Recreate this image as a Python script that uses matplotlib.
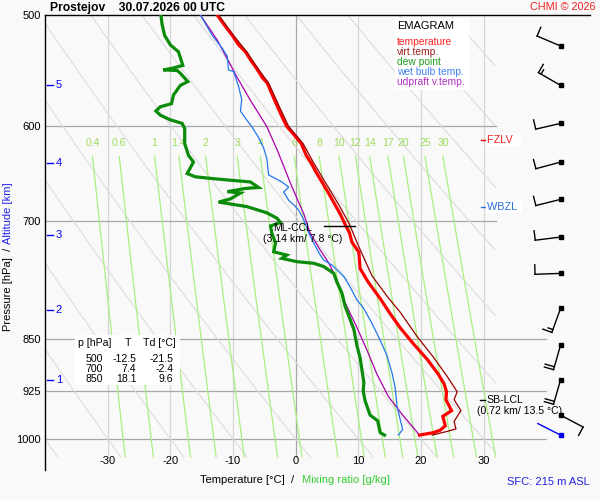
import numpy as np
import matplotlib
matplotlib.use('Agg')
import matplotlib.pyplot as plt
from matplotlib.patches import Rectangle
from matplotlib.ticker import NullLocator

plt.rcParams['font.family'] = ['Liberation Sans', 'DejaVu Sans']

# --- sounding profiles (p in hPa, T in degC) ---
t_p = [500, 508, 517, 525, 531, 538, 545, 554, 559, 570, 582, 594, 600, 610, 617,
       629, 637, 647, 658, 672, 682, 692, 704, 714, 725, 737, 757, 774, 795, 815,
       834, 856, 878, 900, 914, 926, 938, 955, 964, 979, 986, 990, 994]
t_t = [-12.5, -11.4, -10.1, -9.1, -8.0, -7.2, -6.3, -5.3, -4.5, -3.7, -2.8, -1.9, -1.4, 0.0, 0.9,
       1.7, 2.5, 3.3, 4.3, 5.5, 6.3, 7.1, 7.9, 8.6, 9.0, 10.1, 10.3, 11.6, 13.5, 15.1,
       16.7, 18.8, 21.0, 22.8, 23.7, 24.1, 24.0, 24.9, 23.5, 23.9, 23.1, 22.0, 19.8]

tv_p = [500, 517, 531, 545, 559, 582, 600, 617, 637, 658, 682, 704, 727, 749,
        766, 792, 813, 846, 875, 903, 926, 938, 955, 972, 984, 988, 994]
tv_t = [-12.3, -9.9, -7.8, -6.1, -4.3, -2.5, -1.1, 1.2, 2.9, 4.8, 6.9, 8.6, 9.9, 11.2,
        12.2, 14.6, 16.7, 19.4, 22.0, 24.2, 25.8, 25.3, 26.4, 25.3, 25.6, 24.2, 21.8]

td_p = [500, 508, 517, 525, 531, 543, 545.5, 547, 547.5, 550, 557.5, 561, 570, 578, 581,
        585, 589, 593.5, 597, 602, 617, 629, 636, 648, 651.5, 654, 657, 663, 664, 667.5,
        669, 675.5, 679, 684, 691, 697, 702, 706, 714, 726, 736.5, 740.5, 744.5, 748.5, 750.5,
        754.5, 763, 774, 788, 805, 818, 836, 859, 876, 894, 912, 925, 940, 962, 971,
        990, 994]
td_t = [-21.5, -21.3, -20.9, -20.0, -18.7, -18.0, -19.7, -21.1, -18.9, -18.4, -17.2, -18.4, -19.5, -19.8, -21.6,
        -22.3, -21.6, -20.0, -18.1, -17.7, -17.7, -17.1, -16.3, -17.3, -16.0, -12.3, -7.2, -5.9, -8.0, -10.9,
        -8.8, -10.4, -12.3, -7.8, -4.6, -3.0, -2.4, -4.0, -3.8, -3.2, -3.5, -1.4, -2.2, 0.2, 2.9,
        4.5, 6.1, 6.6, 7.4, 7.9, 8.5, 9.3, 9.8, 10.3, 10.6, 10.9, 10.8, 11.1, 11.9, 13.1,
        13.5, 14.2]

tw_p = [500, 517, 528, 535, 547, 548.5, 562, 574, 585, 592, 600, 611, 621.5, 632, 649.5,
        657, 662.5, 668, 677, 682, 688, 699, 714, 726, 740, 746.5, 752.5, 767, 780, 797,
        807, 828, 851, 873, 898, 920, 948, 969, 985, 994]
tw_t = [-15.2, -13.3, -11.7, -10.9, -10.7, -9.9, -9.1, -8.6, -8.8, -8.0, -7.0, -5.9, -5.1, -4.6, -4.3,
        -2.2, -1.1, -1.9, -1.1, -0.3, 0.5, 1.3, 2.1, 2.9, 3.9, 4.5, 5.8, 7.7, 8.7, 9.8,
        10.8, 12.2, 13.5, 14.6, 15.4, 15.9, 16.2, 16.7, 17.1, 16.4]

up_p = [500, 521, 553, 575, 600, 624, 662, 692, 714, 734, 750, 771, 797, 830, 865,
        900, 933, 962, 994]
up_t = [-15.2, -12.5, -9.4, -7.2, -4.6, -2.9, -0.6, 1.3, 2.3, 3.9, 5.3, 6.6, 7.7, 9.6, 11.4,
        13.0, 14.8, 17.1, 19.8]

# winds (direction from, knots)
wind_p = [526, 561, 597, 636, 676, 719, 763, 808, 858, 908, 962]
wind_dir = [293, 300, 257, 255, 256, 263, 268, 200, 196, 196, 118]
wind_kt = [10, 15, 10, 10, 10, 10, 10, 15, 20, 20, 10]
sfc_p, sfc_dir, sfc_kt = 994, 297, 3

# height marks
alt_km = [1, 2, 3, 4, 5]
alt_p = [909, 810, 717, 637, 561]

# table
tab_p = [500, 700, 850]
tab_t = [-12.5, 7.4, 18.1]
tab_td = [-21.5, -2.4, 9.6]

# derived levels
fzlv_p, wbzl_p = 613, 684
ccl_p, ccl_km, ccl_t = 706, 3.14, 7.8
lcl_p, lcl_km, lcl_t = 938, 0.72, 13.5

# diagram grid
iso_t = [-30, -20, -10, 0, 10, 20, 30]
p_ticks = [500, 600, 700, 850, 925, 1000]
mix_w = [0.4, 0.6, 1, 1.4, 2, 3, 4, 6, 8, 10, 12, 14, 17, 20, 25, 30]
theta_c = list(range(-40, 101, 10))

W, H = 600, 500
bg = '#f9f9f9'


def fx(x):
    return x / W


def fy(y):
    return 1 - y / H


fig = plt.figure(figsize=(6, 5), dpi=100, facecolor=bg)
ax = fig.add_axes([fx(45), fy(470), 545 / W, 455 / H])
ax.set_facecolor(bg)
ax.set_yscale('log')
ax.set_xlim(-40, 47.0)
ax.set_ylim(1052.4, 500)

for s in ['bottom', 'right']:
    ax.spines[s].set_visible(False)
for s in ['left', 'top']:
    ax.spines[s].set_color('black')
    ax.spines[s].set_linewidth(1.0)

ax.set_yticks(p_ticks)
ax.set_yticklabels([str(p) for p in p_ticks])
ax.yaxis.set_minor_locator(NullLocator())
ax.tick_params(axis='y', length=0, pad=3, labelsize=8)
ax.set_xticks(iso_t)
ax.set_xticklabels([str(t) for t in iso_t])
ax.tick_params(axis='x', length=0, pad=-9.8, labelsize=8)

p_bot = 1030
t_max = 32.0

# isotherms
for t in iso_t:
    ax.plot([t, t], [500, p_bot], color='#a8a8a8' if t == 0 else '#d6d6d6', lw=0.9, zorder=1)
# isobars
for p in p_ticks[1:]:
    tr = t_max if p < 800 else 40.0
    ax.plot([-40, tr], [p, p], color='#a8a8a8', lw=0.9, zorder=1, clip_on=False)

# dry adiabats
pp = np.linspace(500, p_bot, 300)
for th in theta_c:
    tt = (th + 273.15) * (pp / 1000.0) ** 0.286 - 273.15
    tt = np.where(tt > t_max, np.nan, tt)
    ax.plot(tt, pp, color='#dcdcdc', lw=0.8, zorder=1)

# mixing ratio lines
def dewpoint(w, p):
    e = w * p / (622.0 + w)
    a = np.log(e / 6.112)
    return 243.5 * a / (17.67 - a)


pm = np.linspace(630, p_bot, 100)
for w in mix_w:
    ax.plot(dewpoint(w, pm), pm, color='#a8f080', lw=0.9, zorder=1)
    ax.text(dewpoint(w, 630), 616.4, '%g' % w, color='#9ddc5c', fontsize=7.6,
            ha='center', va='center', zorder=2)

# profiles
ax.plot(up_t, up_p, color='#aa00aa', lw=0.9, zorder=4)
ax.plot(tw_t, tw_p, color='#2277ee', lw=0.9, zorder=4)
ax.plot(td_t, td_p, color='#0a8c0a', lw=2.3, zorder=5, solid_joinstyle='miter')
ax.plot(t_t, t_p, color='#ff0000', lw=2.3, zorder=5, solid_joinstyle='miter')
ax.plot(tv_t, tv_p, color='#990000', lw=0.9, zorder=6)

# height marks on the left
ytr = ax.get_yaxis_transform()
for km, p in zip(alt_km, alt_p):
    ax.plot([0.0037, 0.0147], [p, p], color='#0000ee', lw=1.0, transform=ytr, clip_on=False)
    ax.text(0.020, p, str(km), color='#0000ee', fontsize=8, ha='left', va='center', transform=ytr)

# wind barbs
barb_t = 42.3
inv = ax.transData.inverted()


def draw_barb(p, ddeg, spd, color):
    x0, y0 = ax.transData.transform((barb_t, p))
    d = np.deg2rad(ddeg)
    sx, sy = np.sin(d), np.cos(d)
    xe, ye = x0 + 25.5 * sx, y0 + 25.5 * sy
    segs = [[(x0, y0), (xe, ye)]]
    px_, py_ = sy, -sx
    pos = 0.0
    for i in range(int(spd // 10)):
        bx, by = xe - pos * sx, ye - pos * sy
        segs.append([(bx, by), (bx + 9.5 * px_, by + 9.5 * py_)])
        pos += 3.0
    for i in range(int((spd % 10) // 5)):
        bx, by = xe - pos * sx, ye - pos * sy
        segs.append([(bx, by), (bx + 5.0 * px_, by + 5.0 * py_)])
    for seg in segs:
        dd = inv.transform(seg)
        ax.plot(dd[:, 0], dd[:, 1], color=color, lw=1.0, clip_on=False, zorder=6)
    ax.plot(barb_t, p, 's', color=color, ms=2.4, clip_on=False, zorder=7)


for p, d, s in zip(wind_p, wind_dir, wind_kt):
    draw_barb(p, d, s, 'black')
draw_barb(sfc_p, sfc_dir, sfc_kt, '#0000ee')

# level annotations
box = dict(facecolor='white', edgecolor='none', boxstyle='square,pad=0.15')
ax.plot([29.6, 30.2], [fzlv_p, fzlv_p], color='#ee0000', lw=1.0, clip_on=False)
ax.text(30.6, fzlv_p, 'FZLV  ', color='#ee2020', fontsize=7.8, ha='left', va='center',
        zorder=5.5, bbox=box)
ax.plot([29.6, 30.2], [wbzl_p, wbzl_p], color='#3070e0', lw=1.0, clip_on=False)
ax.text(30.6, wbzl_p, 'WBZL ', color='#3070e0', fontsize=7.8, ha='left', va='center',
        zorder=5.5, bbox=box)

ax.plot([ccl_t - 3.2, ccl_t + 1.7], [ccl_p, ccl_p], color='black', lw=1.0, zorder=7)
fig.text(fx(293), fy(227.7), 'ML-CCL', fontsize=7.6, ha='center', va='center', zorder=8)
fig.text(fx(303), fy(238.5), '(%.2f km/ %.1f °C)' % (ccl_km, ccl_t), fontsize=7.6,
         ha='center', va='center', zorder=8)

ax.plot([29.5, 30.3], [lcl_p, lcl_p], color='black', lw=1.0, clip_on=False)
fig.text(fx(486.5), fy(400), 'SB-LCL', fontsize=7.6, ha='left', va='center', zorder=8)
fig.text(fx(477), fy(411.5), '(%.2f km/ %.1f °C)' % (lcl_km, lcl_t), fontsize=7.6,
         ha='left', va='center', zorder=8)

# white boxes behind legend and table
for (x0, y0, x1, y1) in [(395, 18, 469, 90), (75, 335, 180, 385)]:
    fig.patches.append(Rectangle((fx(x0), fy(y1)), (x1 - x0) / W, (y1 - y0) / H,
                                 transform=fig.transFigure, facecolor='white',
                                 edgecolor='none', zorder=2))

# legend
fig.text(fx(397), fy(26), 'EMAGRAM', fontsize=8, ha='left', va='center', zorder=8)
leg = [('temperature', '#ff2020'), ('virt.temp.', '#a02020'), ('dew point', '#20a020'),
       ('wet bulb temp.', '#4080f0'), ('udpraft v.temp.', '#b030c0')]
for i, (lab, c) in enumerate(leg):
    fig.text(fx(397), fy(42 + 10 * i), lab, color=c, fontsize=7.4, ha='left', va='center', zorder=8)

# table
fig.text(fx(78), fy(343.5), 'p [hPa]', fontsize=7.6, ha='left', va='center', zorder=8)
fig.text(fx(127.5), fy(343.5), 'T', fontsize=7.6, ha='center', va='center', zorder=8)
fig.text(fx(143), fy(343.5), 'Td [°C]', fontsize=7.6, ha='left', va='center', zorder=8)
for i in range(len(tab_p)):
    yy = fy(358.5 + 10 * i)
    fig.text(fx(102.5), yy, str(tab_p[i]), fontsize=7.6, ha='right', va='center', zorder=8)
    fig.text(fx(136.5), yy, '%.1f' % tab_t[i], fontsize=7.6, ha='right', va='center', zorder=8)
    fig.text(fx(173.5), yy, '%.1f' % tab_td[i], fontsize=7.6, ha='right', va='center', zorder=8)

# titles and axis labels
fig.text(fx(50), fy(7.5), 'Prostejov    30.07.2026 00 UTC', fontsize=8.7, fontweight='bold',
         ha='left', va='center')
fig.text(fx(596), fy(7.5), 'CHMI © 2026', color='#ee2020', fontsize=7.8, ha='right', va='center')
fig.text(fx(294), fy(480), 'Temperature [°C]  /', fontsize=8, ha='right', va='center')
fig.text(fx(302), fy(480), 'Mixing ratio [g/kg]', color='#33cc33', fontsize=8, ha='left', va='center')
fig.text(fx(590), fy(482), 'SFC: 215 m ASL', color='#2222dd', fontsize=8, ha='right', va='center')
fig.text(fx(8), fy(248), 'Pressure [hPa]  /', fontsize=8, rotation=90, ha='center', va='top')
fig.text(fx(8), fy(244), 'Altitude [km]', color='#2222ee', fontsize=8, rotation=90,
         ha='center', va='bottom')

fig.savefig('out.png', dpi=100, facecolor=bg)
